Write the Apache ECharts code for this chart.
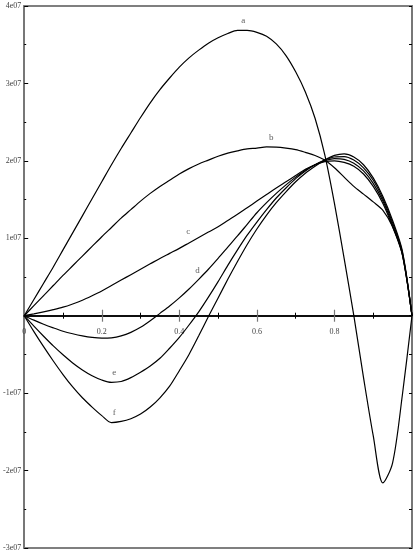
<!DOCTYPE html>
<html>
<head>
<meta charset="utf-8">
<script src="https://cdn.jsdelivr.net/npm/echarts@6/dist/echarts.min.js"></script>
<style>
html, body { margin: 0; padding: 0; background: #fff; }
#chartmain { width: 415px; height: 554px; }
</style>
</head>
<body>
<div id="chartmain"></div>
<script>
// x positions shared by all curves
const xs = [0, 0.025, 0.05, 0.075, 0.1, 0.125, 0.15, 0.175, 0.2, 0.225, 0.25, 0.275, 0.3, 0.325, 0.35, 0.375,
  0.4, 0.425, 0.45, 0.475, 0.5, 0.525, 0.55, 0.575, 0.6, 0.625, 0.65, 0.675, 0.7, 0.725, 0.75, 0.775,
  0.8, 0.825, 0.85, 0.875, 0.9, 0.925, 0.95, 0.975, 1];

// values in units of 1e07
const curveA = [0, 0.21, 0.42, 0.63, 0.85, 1.07, 1.29, 1.51, 1.73, 1.95, 2.16, 2.36, 2.56, 2.75, 2.92, 3.07,
  3.21, 3.33, 3.43, 3.52, 3.59, 3.645, 3.685, 3.685, 3.66, 3.61, 3.51, 3.36, 3.15, 2.89, 2.55, 2.08,
  1.45, 0.74, 0.0, -0.80, -1.55, -2.16, -1.90, -1.03, 0];
const curveB = [0, 0.13, 0.26, 0.39, 0.52, 0.645, 0.77, 0.895, 1.02, 1.14, 1.26, 1.37, 1.48, 1.58, 1.67, 1.75,
  1.83, 1.90, 1.96, 2.01, 2.06, 2.10, 2.13, 2.155, 2.165, 2.18, 2.178, 2.165, 2.145, 2.11, 2.07, 2.01,
  1.91, 1.79, 1.67, 1.57, 1.47, 1.36, 1.15, 0.80, 0];
const curveC = [0, 0.024, 0.05, 0.078, 0.11, 0.152, 0.20, 0.258, 0.32, 0.39, 0.46, 0.53, 0.60, 0.67, 0.74, 0.805,
  0.87, 0.94, 1.01, 1.08, 1.15, 1.23, 1.31, 1.395, 1.48, 1.565, 1.65, 1.73, 1.81, 1.89, 1.95, 1.99,
  2.00, 1.98, 1.93, 1.83, 1.67, 1.45, 1.15, 0.79, 0];
const curveD = [0, -0.057, -0.11, -0.157, -0.20, -0.233, -0.26, -0.28, -0.29, -0.285, -0.26, -0.215, -0.15, -0.065, 0.03, 0.125,
  0.23, 0.345, 0.47, 0.60, 0.74, 0.885, 1.03, 1.18, 1.33, 1.46, 1.58, 1.69, 1.79, 1.88, 1.95, 2.00,
  2.03, 2.02, 1.97, 1.87, 1.71, 1.48, 1.17, 0.80, 0];
const curveE = [0, -0.135, -0.265, -0.39, -0.505, -0.61, -0.70, -0.775, -0.83, -0.86, -0.85, -0.80, -0.73, -0.65, -0.55, -0.42,
  -0.28, -0.12, 0.05, 0.24, 0.44, 0.65, 0.85, 1.04, 1.21, 1.37, 1.52, 1.65, 1.77, 1.87, 1.95, 2.01,
  2.05, 2.055, 2.01, 1.91, 1.75, 1.51, 1.20, 0.82, 0];
const curveF = [0, -0.205, -0.40, -0.585, -0.76, -0.92, -1.06, -1.18, -1.29, -1.38, -1.365, -1.33, -1.27, -1.18, -1.06, -0.91,
  -0.71, -0.50, -0.26, -0.01, 0.23, 0.47, 0.70, 0.92, 1.12, 1.30, 1.46, 1.60, 1.73, 1.84, 1.93, 2.01,
  2.07, 2.09, 2.05, 1.95, 1.78, 1.54, 1.23, 0.84, 0];

const curveNames = ['a', 'b', 'c', 'd', 'e', 'f'];
const curves = [curveA, curveB, curveC, curveD, curveE, curveF];
// where each curve's letter sits (data coords)
const labelSpots = [[0.565, 3.81], [0.637, 2.30], [0.423, 1.08], [0.447, 0.58], [0.232, -0.73], [0.232, -1.25]];

// y range, the x axis is pulled up to the zero line with an offset
const yMin = -3, yMax = 4;
const gridTop = 6, gridBottom = 6, chartH = 554;

function pairs (ys) {
  return xs.map((x, i) => [x, ys[i]]);
}

let chartmain = echarts.init(document.getElementById('chartmain'));
const tickFont = { fontFamily: 'Liberation Serif', fontSize: 8, color: '#444' };
const plotH = chartH - gridTop - gridBottom;
const zeroOffset = -plotH * (0 - yMin) / (yMax - yMin);

let series = curves.map((ys, i) => ({
  name: curveNames[i],
  type: 'line',
  data: pairs(ys),
  smooth: 0.3,
  showSymbol: false,
  lineStyle: { color: '#000', width: 1.2 },
  z: 3
}));
series.push({
  type: 'scatter',
  symbolSize: 1,
  itemStyle: { color: 'rgba(0,0,0,0)' },
  data: labelSpots.map((p, i) => [p[0], p[1], curveNames[i]]),
  label: {
    show: true,
    position: 'inside',
    formatter: p => p.data[2],
    fontFamily: 'Liberation Serif',
    fontSize: 9,
    color: '#333'
  },
  z: 4
});

let option = {
  animation: false,
  grid: { left: 19.5, right: 2.5, top: gridTop, bottom: gridBottom, show: true, borderColor: '#555', borderWidth: 1.5 },
  xAxis: [
    {
      type: 'value', min: 0, max: 1, interval: 0.2, position: 'bottom', offset: zeroOffset,
      axisLine: { onZero: false, lineStyle: { color: '#000', width: 1.5 } },
      axisTick: { inside: true, length: 6, lineStyle: { color: '#777', width: 1.2 } },
      minorTick: { show: true, splitNumber: 2, length: 3, lineStyle: { color: '#000' } },
      axisLabel: Object.assign({ margin: 12, formatter: v => (v === 1 ? '' : String(v)) }, tickFont),
      splitLine: { show: false }
    },
    {
      // same scale again, ticks pointing down from the zero line
      type: 'value', min: 0, max: 1, interval: 0.2, position: 'top',
      axisLine: { onZero: true, onZeroAxisIndex: 0, lineStyle: { color: '#000', width: 1.5 } },
      axisTick: { inside: true, length: 6, lineStyle: { color: '#777', width: 1.2 } },
      minorTick: { show: true, splitNumber: 2, length: 3, lineStyle: { color: '#000' } },
      axisLabel: { show: false },
      splitLine: { show: false }
    }
  ],
  yAxis: [
    {
      type: 'value', min: yMin, max: yMax, interval: 1, position: 'left',
      axisLine: { onZero: false, lineStyle: { color: '#777', width: 2 } },
      axisTick: { inside: true, length: 4, lineStyle: { color: '#000' } },
      minorTick: { show: true, splitNumber: 2, length: 2, lineStyle: { color: '#000' } },
      axisLabel: Object.assign({ margin: 3, formatter: v => (v === 0 ? '' : v + 'e07') }, tickFont),
      splitLine: { show: false }
    },
    {
      type: 'value', min: yMin, max: yMax, interval: 1, position: 'right',
      axisLine: { onZero: false, lineStyle: { color: '#777', width: 2 } },
      axisTick: { inside: true, length: 3, lineStyle: { color: '#000' } },
      minorTick: { show: true, splitNumber: 2, length: 3, lineStyle: { color: '#000' } },
      axisLabel: { show: false },
      splitLine: { show: false }
    }
  ],
  series: series
};
chartmain.setOption(option);
</script>
</body>
</html>
